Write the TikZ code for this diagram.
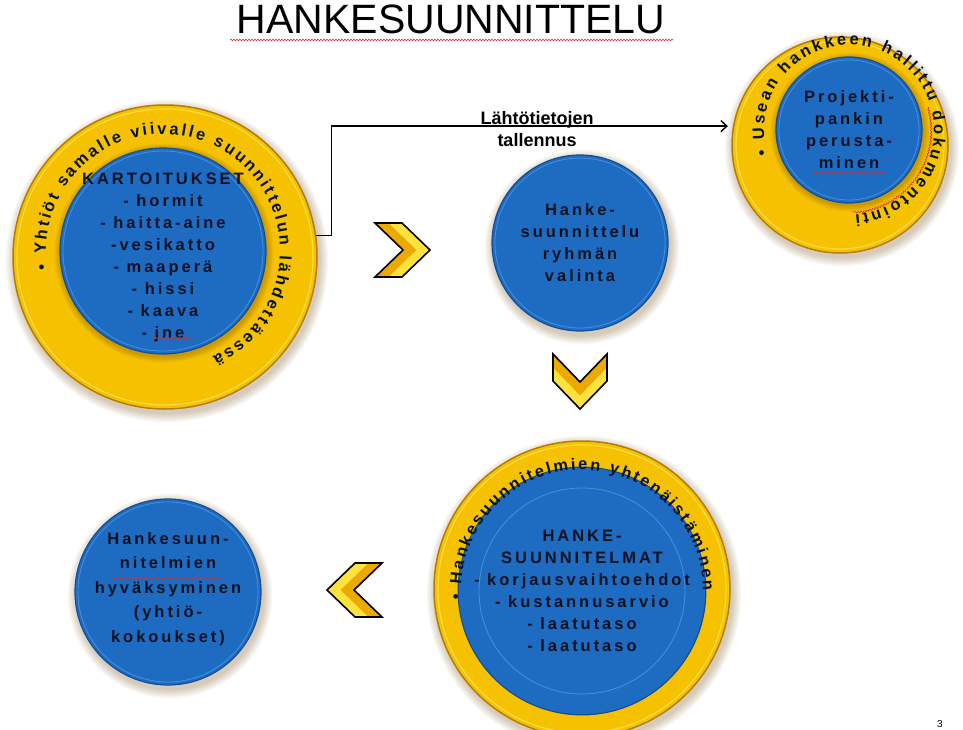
\documentclass[tikz,border=0pt]{standalone}
\usepackage{fontspec}
\setmainfont{Liberation Sans}
\newfontfamily\spacedfont[LetterSpace=18]{Liberation Sans}
\usetikzlibrary{decorations.text,decorations.pathmorphing,arrows.meta}

\definecolor{discblue}{RGB}{29,108,194}
\definecolor{discedge}{RGB}{22,78,150}
\definecolor{discrim}{RGB}{70,145,220}
\definecolor{ringgold}{RGB}{246,194,0}
\definecolor{ringedge}{RGB}{180,125,0}
\definecolor{ringlight}{RGB}{255,226,90}
\definecolor{inktext}{RGB}{10,18,34}
\definecolor{shadowbrown}{RGB}{110,70,10}
\definecolor{spellred}{RGB}{215,45,45}
\definecolor{chevlight}{RGB}{255,226,60}
\definecolor{chevdark}{RGB}{236,170,0}

\newcommand\discfont{\spacedfont\bfseries\fontsize{16.5}{22}\selectfont\color{inktext}}
\newcommand\arcfont{\bfseries\fontsize{16.5}{16.5}\selectfont\color{inktext}}
% soft cast shadow under a round shape: centre x, centre y, radius
\newcommand\dropshade[3]{%
  \foreach \k in {1,...,7}{\fill[shadowbrown,opacity=0.045] (#1+2,#2-4) circle[radius=#3+\k*1.3];}}
% brownish halo that a disc throws on its ring
\newcommand\dischalo[3]{%
  \foreach \k in {1,...,5}{\fill[shadowbrown,opacity=0.07] (#1+1,#2-2) circle[radius=#3+\k*1.3];}}

\begin{document}
\begin{tikzpicture}[x=1pt,y=1pt,
  ring/.style={circle, inner sep=0pt, fill=ringgold, draw=ringedge, line width=1.5pt},
  disc/.style={circle, inner sep=0pt, fill=discblue, draw=discedge, line width=1.2pt,
               font=\discfont, align=center},
  conn/.style={draw=black, line width=1.4pt, -{Straight Barb[length=6pt,width=11pt]}},
  spell/.style={draw=spellred, line width=0.6pt, decorate,
                decoration={snake, amplitude=0.8pt, segment length=3pt}},
  arctext/.style={decorate, decoration={text along path, text align=fit to path, text={#1}}},
  chevron/.pic={
    \fill[chevlight] (0,27) -- (28,0) -- (0,-27) -- (-13.5,-27) -- (14.5,0) -- (-13.5,27) -- cycle;
    \fill[chevdark] (-13.5,27) -- (14.5,0) -- (-13.5,-27) -- (-27,-27) -- (1,0) -- (-27,27) -- cycle;
    \draw[black, line width=1.6pt, line join=miter]
      (-27,27) -- (0,27) -- (28,0) -- (0,-27) -- (-27,-27) -- (1,0) -- cycle;
  }]

\fill[white] (0,0) rectangle (963,-730);
\useasboundingbox (0,0) rectangle (963,-730);

% heading
\node[anchor=base, font=\fontsize{41}{41}\selectfont] (title) at (451,-34) {HANKESUUNNITTELU};
\draw[spell] (230,-40) -- (673,-40);

% surveys: ring with disc
\dropshade{165}{-257}{152}
\node[ring, minimum size=304pt] (ringA) at (165,-257) {};
\draw[ringlight, line width=1.2pt, opacity=0.8] (ringA.center) circle[radius=148];
\dischalo{163}{-251}{103}
\node[disc, minimum size=206pt] (discA) at (163,-251) {};
\draw[discrim, line width=0.8pt] (discA.center) circle[radius=100];
\node[font=\discfont, align=center] (discAtext) at (163,-257)
  {KARTOITUKSET\\- hormit\\- haitta-aine\\-vesikatto\\- maaperä\\- hissi\\- kaava\\- jne};
\draw[spell] (152,-338) -- (192,-338);
\path[arctext={|\arcfont|• Yhtiöt samalle viivalle suunnittelun lähdettäessä}]
  ([shift={(189:117)}]discA.center) arc[start angle=189, end angle=-65, radius=117];

% project bank: ring with disc
\dropshade{840}{-145}{108}
\node[ring, minimum size=216pt] (ringB) at (840,-145) {};
\draw[ringlight, line width=1.2pt, opacity=0.8] (ringB.center) circle[radius=104];
\dischalo{849}{-130}{73}
\node[disc, minimum size=146pt] (discB) at (849,-130) {Projekti-\\pankin\\perusta-\\minen};
\draw[discrim, line width=0.8pt] (discB.center) circle[radius=70];
\draw[spell] (813,-173) -- (885,-173);
\draw[spell] ([shift={(16:82)}]discB.center) arc[start angle=16, end angle=-88, radius=82];
\path[arctext={|\arcfont|• Usean hankkeen hallittu dokumentointi}]
  ([shift={(197:85)}]discB.center) arc[start angle=197, end angle=-86, radius=85];

% data storage connector
\draw[conn] (ringA.8) -- ++(15,0) |- ([xshift=-5pt]ringB.170);
\node[font=\bfseries\fontsize{18}{22}\selectfont, align=center] (store) at (537,-129)
  {Lähtötietojen\\tallennus};

% planning group selection
\dropshade{580}{-243}{88}
\node[disc, minimum size=176pt] (discC) at (580,-243) {Hanke-\\suunnittelu\\ryhmän\\valinta};
\draw[discrim, line width=0.8pt] (discC.center) circle[radius=85];

% project plans: ring with disc
\dropshade{582}{-589}{148}
\node[ring, minimum size=296pt] (ringD) at (582,-589) {};
\draw[ringlight, line width=1.2pt, opacity=0.8] (ringD.center) circle[radius=144];
\dischalo{582}{-591}{106}
\node[disc, minimum size=212pt] (discD) at (582,-591)
  {HANKE-\\SUUNNITELMAT\\- korjausvaihtoehdot\\- kustannusarvio\\- laatutaso\\- laatutaso};
\draw[discrim, line width=0.8pt] (discD.center) circle[radius=103];
\path[arctext={|\arcfont|• Hankesuunnitelmien yhtenäistäminen}]
  ([shift={(184:121)}]discD.center) arc[start angle=184, end angle=0, radius=121];

% approval
\dropshade{168}{-592}{93}
\node[disc, minimum size=186pt] (discE) at (168,-592) {};
\draw[discrim, line width=0.8pt] (discE.center) circle[radius=90];
\node[font=\spacedfont\bfseries\fontsize{16.5}{24.5}\selectfont\color{inktext}, align=center]
  (discEtext) at (168,-589) {Hankesuun-\\nitelmien\\hyväksyminen\\(yhtiö-\\kokoukset)};
\draw[spell] (112,-578) -- (223,-578);

% flow chevrons
\pic (chevRight) at (402,-250) {chevron};
\pic[rotate=-90] (chevDown) at (580,-381) {chevron};
\pic[rotate=180] (chevLeft) at (355,-590) {chevron};

% page number
\node[font=\fontsize{10}{10}\selectfont] (pagenum) at (940,-724) {3};
\end{tikzpicture}
\end{document}
